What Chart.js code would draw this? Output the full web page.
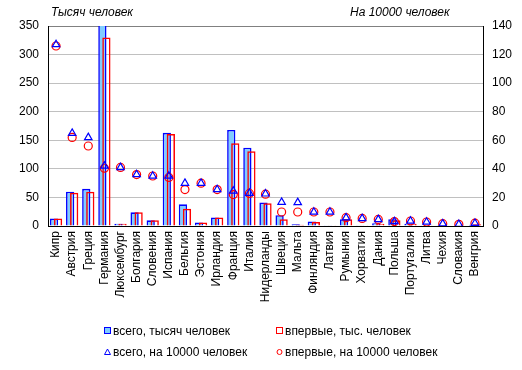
<!DOCTYPE html>
<html>
<head>
<meta charset="utf-8">
<script src="https://cdn.jsdelivr.net/npm/chart.js@4.4.0/dist/chart.umd.min.js"></script>
<style>
    body { margin: 0; background: #fff; }
    #wrap { position: relative; width: 522px; height: 370px; font-family: "Liberation Sans", Arial, sans-serif; }
    .titulo { position: absolute; top: 5px; font-size: 12px; font-style: italic; color: #000; }
    .leyenda { position: absolute; font-size: 12px; color: #000; line-height: 14px; white-space: nowrap; }
    .leyenda svg { position: absolute; left: -9px; top: 3px; }
</style>
</head>
<body>
<div id="wrap">
    <canvas id="grafico" width="522" height="370"></canvas>
    <div class="titulo" style="left:51px">Тысяч человек</div>
    <div class="titulo" style="left:350px">На 10000 человек</div>
    <div id="leyendas"></div>
</div>
<script>
// datos
const paises = ["Кипр", "Австрия", "Греция", "Германия", "Люксембург", "Болгария", "Словения", "Испания",
    "Бельгия", "Эстония", "Ирландия", "Франция", "Италия", "Нидерланды", "Швеция", "Мальта", "Финляндия",
    "Латвия", "Румыния", "Хорватия", "Дания", "Польша", "Португалия", "Литва", "Чехия", "Словакия", "Венгрия"];
const totalMiles = [13, 60, 65, 365, 4, 24, 10, 163, 38, 6, 15, 168, 137, 41, 19, 3, 8, 1.5, 12, 1.5, 5, 12, 4, 1.5, 1.5, 1, 2];
const primeraMiles = [13, 58, 60, 330, 4, 24, 10, 161, 30, 6, 15, 145, 131, 40, 12, 2, 7, 1.5, 12, 1.5, 4, 10, 4, 1.5, 1.5, 1, 3];
const total10000 = [127, 65, 62, 42, 41, 36, 35, 35, 30, 30, 25.5, 24.5, 23, 22.5, 16.7, 16.5, 9.8, 9.8, 5.8, 5.3, 4.6, 3.1, 3.5, 2.8, 1.6, 1.2, 2];
const primera10000 = [126, 62, 56, 40.5, 41, 36, 35, 34, 25.5, 30, 25.5, 22, 22.8, 22.3, 9.8, 9.8, 9.8, 9.8, 5.8, 5.3, 4.6, 3.1, 3.5, 2.8, 1.6, 1.2, 2];
const ticksIzq = [0, 50, 100, 150, 200, 250, 300, 350];
const ticksDer = [0, 20, 40, 60, 80, 100, 120, 140];

const azul = "#0000ff";
const azulClaro = "#80ccff";
const rojo = "#ff0000";

// las barras rojas se dibujan encima de las azules
const rojoEncima = {
    id: "rojoEncima",
    beforeDatasetDraw(chart, args) {
        if (args.index === 1) return false;
    },
    afterDatasetDraw(chart, args) {
        if (args.index === 0) chart.getDatasetMeta(1).controller.draw();
    }
};

const ctx = document.getElementById("grafico").getContext("2d");
const grafico = new Chart(ctx, {
    type: "bar",
    data: {
        labels: paises,
        datasets: [
            {
                label: "всего, тысяч человек",
                data: totalMiles,
                backgroundColor: azulClaro,
                borderColor: azul,
                borderWidth: 1.6,
                categoryPercentage: 0.5,
                barPercentage: 2.05,
                yAxisID: "y",
                order: 1
            },
            {
                label: "впервые, тыс. человек",
                data: primeraMiles,
                backgroundColor: "rgba(0,0,0,0)",
                borderColor: rojo,
                borderWidth: 1.5,
                categoryPercentage: 0.5,
                barPercentage: 2.05,
                yAxisID: "y",
                order: 1
            },
            {
                type: "line",
                label: "всего, на 10000 человек",
                data: total10000,
                showLine: false,
                pointStyle: "triangle",
                pointRadius: 4.3,
                borderColor: azul,
                backgroundColor: "rgba(0,0,0,0)",
                pointBorderWidth: 1.2,
                yAxisID: "y2",
                order: 0
            },
            {
                type: "line",
                label: "впервые, на 10000 человек",
                data: primera10000,
                showLine: false,
                pointStyle: "circle",
                pointRadius: 4,
                borderColor: rojo,
                backgroundColor: "rgba(0,0,0,0)",
                pointBorderWidth: 1.2,
                yAxisID: "y2",
                order: 0
            }
        ]
    },
    options: {
        responsive: false,
        animation: false,
        layout: { padding: { top: 26, left: 0, right: 0, bottom: 0 } },
        plugins: {
            legend: { display: false },
            tooltip: { enabled: false }
        },
        scales: {
            x: {
                grid: { display: false, drawTicks: false },
                border: { color: "#000", width: 1 },
                ticks: {
                    autoSkip: false,
                    minRotation: 90,
                    maxRotation: 90,
                    padding: 5,
                    color: "#000",
                    font: { family: "'Liberation Sans', Arial", size: 12 }
                },
                afterFit: function (scale) { scale.height = 144; }
            },
            y: {
                position: "left",
                min: 0,
                max: 350,
                afterBuildTicks: function (scale) { scale.ticks = ticksIzq.map(v => ({ value: v })); },
                grid: {
                    color: ctx => ctx.tick && ctx.tick.value === 350 ? "#808080" : "#c0c0c0",
                    drawTicks: false
                },
                border: { color: "#000", width: 1 },
                ticks: {
                    padding: 9,
                    color: "#000",
                    font: { family: "'Liberation Sans', Arial", size: 12 }
                },
                afterFit: function (scale) { scale.width = 48; }
            },
            y2: {
                position: "right",
                min: 0,
                max: 140,
                afterBuildTicks: function (scale) { scale.ticks = ticksDer.map(v => ({ value: v })); },
                grid: { drawOnChartArea: false, drawTicks: false },
                border: { color: "#000", width: 1 },
                ticks: {
                    padding: 9,
                    color: "#000",
                    font: { family: "'Liberation Sans', Arial", size: 12 }
                },
                afterFit: function (scale) { scale.width = 39; }
            }
        }
    },
    plugins: [rojoEncima]
});

// leyenda en dos columnas, como en el original
const posiciones = [
    { left: 113, top: 324 },
    { left: 285, top: 324 },
    { left: 113, top: 345 },
    { left: 285, top: 345 }
];
const marcas = [
    '<svg width="8" height="8"><rect x="0.5" y="0.5" width="6" height="6" fill="' + azulClaro + '" stroke="' + azul + '"/></svg>',
    '<svg width="8" height="8"><rect x="0.5" y="0.5" width="6" height="6" fill="#fff" stroke="' + rojo + '"/></svg>',
    '<svg width="8" height="8"><polygon points="3.5,1 6.5,6.5 0.5,6.5" fill="none" stroke="' + azul + '"/></svg>',
    '<svg width="8" height="8"><circle cx="3.5" cy="4" r="2.5" fill="none" stroke="' + rojo + '"/></svg>'
];
const contenedor = document.getElementById("leyendas");
grafico.data.datasets.forEach((ds, i) => {
    const item = document.createElement("div");
    item.className = "leyenda";
    item.style.left = posiciones[i].left + "px";
    item.style.top = posiciones[i].top + "px";
    item.innerHTML = marcas[i] + ds.label;
    contenedor.appendChild(item);
});
</script>
</body>
</html>
